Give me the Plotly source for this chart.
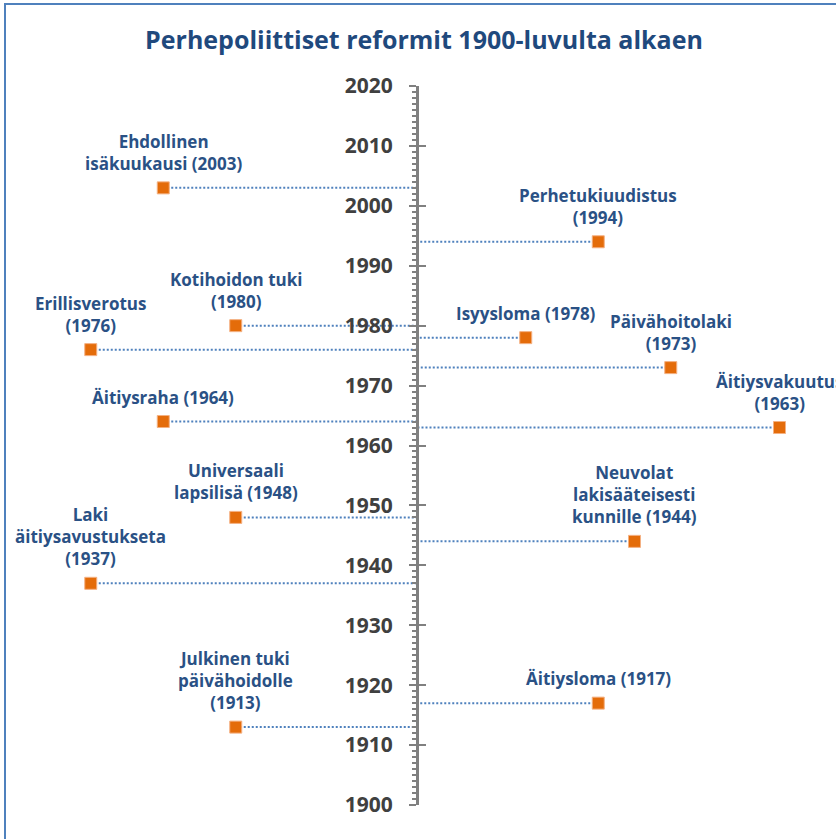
import plotly.graph_objects as go

# ---- data ----
labels = [
    "Ehdollinen<br>isäkuukausi (2003)",
    "Perhetukiuudistus<br>(1994)",
    "Kotihoidon tuki<br>(1980)",
    "Erillisverotus<br>(1976)",
    "Isyysloma (1978)",
    "Päivähoitolaki<br>(1973)",
    "Äitiysraha (1964)",
    "Äitiysvakuutus<br>(1963)",
    "Universaali<br>lapsilisä (1948)",
    "Neuvolat<br>lakisääteisesti<br>kunnille (1944)",
    "Laki<br>äitiysavustukseta<br>(1937)",
    "Julkinen tuki<br>päivähoidolle<br>(1913)",
    "Äitiysloma (1917)",
]
years = [2003, 1994, 1980, 1976, 1978, 1973, 1964, 1963, 1948, 1944, 1937, 1913, 1917]
lanes = [-3.5, 2.5, -2.5, -4.5, 1.5, 3.5, -3.5, 5.0, -2.5, 3.0, -4.5, -2.5, 2.5]

title_text = "Perhepoliittiset reformit 1900-luvulta alkaen"
year_min, year_max = 1900, 2020

# ---- styles ----
W, H = 836, 839
AXIS_PX = 417
PX_PER_LANE = 72.5
FONT = "Open Sans"
LABEL_COLOR = "#2A5185"
TITLE_COLOR = "#1F497D"
MARKER_COLOR = "#E46C0A"
DOT_COLOR = "#4F81BD"
AXIS_COLOR = "#808080"

line_x, line_y = [], []
for lx, yr in zip(lanes, years):
    line_x += [lx, 0, None]
    line_y += [yr, yr, None]

fig = go.Figure()
fig.add_trace(go.Scatter(
    x=line_x, y=line_y, mode="lines",
    line=dict(color=DOT_COLOR, width=2, dash="2px,2px"),
    hoverinfo="skip", showlegend=False, yaxis="y",
))
fig.add_trace(go.Scatter(
    x=lanes, y=years, mode="markers",
    marker=dict(symbol="square", size=12, color=MARKER_COLOR,
                line=dict(color="#F4B183", width=1)),
    showlegend=False, yaxis="y2",
))

for lab, lx, yr in zip(labels, lanes, years):
    fig.add_annotation(
        x=lx, y=yr, xref="x", yref="y", text=lab, showarrow=False,
        xanchor="center", yanchor="bottom", yshift=11, align="center",
        font=dict(family=FONT, size=17, color=LABEL_COLOR, weight="bold"),
    )

top_px, bot_px = 86, 805
fig.update_layout(
    width=W, height=H, autosize=False,
    margin=dict(l=0, r=0, t=top_px, b=H - bot_px, pad=0),
    paper_bgcolor="white", plot_bgcolor="rgba(0,0,0,0)",
    title=dict(text=title_text, x=424 / W, xanchor="center",
               y=1 - 40 / H, yanchor="middle", yref="container",
               font=dict(family=FONT, size=25, color=TITLE_COLOR, weight="bold")),
    xaxis=dict(range=[-AXIS_PX / PX_PER_LANE, (W - AXIS_PX) / PX_PER_LANE],
               visible=False, domain=[0, 1]),
    yaxis=dict(range=[year_min, year_max], anchor="free", position=AXIS_PX / W,
               showline=True, linecolor=AXIS_COLOR, linewidth=3,
               ticks="outside", ticklen=7, tickwidth=2, tickcolor=AXIS_COLOR,
               tick0=1900, dtick=10, showgrid=False, zeroline=False,
               minor=dict(ticks="outside", ticklen=4, tickwidth=1.5,
                          tickcolor=AXIS_COLOR, dtick=1, showgrid=False),
               tickfont=dict(family=FONT, size=21, color="#404040", weight="bold"),
               ticklabelstandoff=12),
    yaxis2=dict(range=[year_min, year_max], overlaying="y", anchor="free",
                position=AXIS_PX / W, side="left",
                ticks="inside", ticklen=8, tickwidth=2, tickcolor=AXIS_COLOR,
                tick0=1900, dtick=10, showticklabels=False, showline=False,
                showgrid=False, zeroline=False),
    shapes=[dict(type="rect", xref="paper", yref="paper",
                 x0=5 / W, x1=1.3, y0=-0.5, y1=(bot_px - 4) / (bot_px - top_px),
                 line=dict(color=DOT_COLOR, width=2), fillcolor="rgba(0,0,0,0)",
                 layer="below")],
)

fig.write_html("out.html", config={"displayModeBar": False},
               post_script="document.body.style.margin='0px';document.body.style.overflow='hidden';")
